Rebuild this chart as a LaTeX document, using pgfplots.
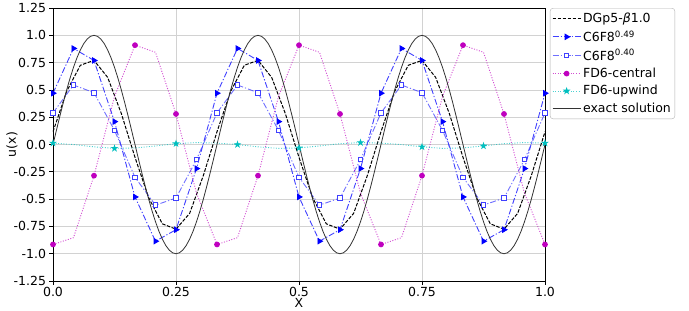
\documentclass[border=0pt]{standalone}
\usepackage{pgfplots}
\pgfplotsset{compat=1.18}
\usepackage{fontspec}
\setmainfont{DejaVu Sans}
\definecolor{mplb}{rgb}{0,0,1}
\definecolor{mpllb}{rgb}{0.25,0.25,1}
\definecolor{mplm}{rgb}{0.75,0,0.75}
\definecolor{mplc}{rgb}{0,0.75,0.75}
\pgfdeclareplotmark{fstar}{%
  \pgfpathmoveto{\pgfpoint{0pt}{\pgfplotmarksize}}%
  \pgfpathlineto{\pgfpoint{-0.2245\pgfplotmarksize}{0.309\pgfplotmarksize}}%
  \pgfpathlineto{\pgfpoint{-0.951\pgfplotmarksize}{0.309\pgfplotmarksize}}%
  \pgfpathlineto{\pgfpoint{-0.363\pgfplotmarksize}{-0.118\pgfplotmarksize}}%
  \pgfpathlineto{\pgfpoint{-0.588\pgfplotmarksize}{-0.809\pgfplotmarksize}}%
  \pgfpathlineto{\pgfpoint{0pt}{-0.382\pgfplotmarksize}}%
  \pgfpathlineto{\pgfpoint{0.588\pgfplotmarksize}{-0.809\pgfplotmarksize}}%
  \pgfpathlineto{\pgfpoint{0.363\pgfplotmarksize}{-0.118\pgfplotmarksize}}%
  \pgfpathlineto{\pgfpoint{0.951\pgfplotmarksize}{0.309\pgfplotmarksize}}%
  \pgfpathlineto{\pgfpoint{0.2245\pgfplotmarksize}{0.309\pgfplotmarksize}}%
  \pgfpathclose
  \pgfusepathqfillstroke}
\begin{document}
\begin{tikzpicture}[font=\fontsize{12.5bp}{15bp}\selectfont]
\begin{axis}[
  width=492bp, height=273bp, scale only axis,
  xmin=0, xmax=1, ymin=-1.25, ymax=1.25,
  xtick={0,0.25,0.5,0.75,1},
  xticklabels={0.0,0.25,0.5,0.75,1.0},
  ytick={-1.25,-1,-0.75,-0.5,-0.25,0,0.25,0.5,0.75,1,1.25},
  yticklabels={-1.25,-1.0,-0.75,-0.5,-0.25,0.0,0.25,0.5,0.75,1.0,1.25},
  tick align=outside, tick pos=left,
  major tick length=3.5bp,
  tick style={line width=0.8bp, black},
  grid=major,
  major grid style={gray!35, line width=0.8bp},
  axis line style={line width=0.8bp},
  xticklabel style={yshift=1bp},
  xlabel={X}, ylabel={u(x)},
  every axis x label/.style={at={(axis description cs:0.5,-0.08)}, anchor=center},
  every axis y label/.style={at={(axis description cs:-0.0833,0.5)}, anchor=center, rotate=90},
  legend cell align=left,
  legend style={at={(1.01,1)}, anchor=north west, draw=gray!60, rounded corners=3bp,
    font=\fontsize{12.5bp}{15bp}\selectfont, inner xsep=2bp, inner ysep=3bp, row sep=2.4bp,
    /tikz/every even column/.append style={column sep=2bp}},
  legend image code/.code={\draw[mark repeat=2,mark phase=2,#1] plot coordinates {(0bp,0bp) (14bp,0bp) (28bp,0bp)};},
]
% DGp5-beta1.0
\addplot[color=black, line width=1bp, dash pattern=on 3.5bp off 1.5bp, no marks, x filter/.expression={x/36}] coordinates {
(0,0.117) (1,0.487) (2,0.726) (3,0.771) (4,0.615) (5,0.284) (6,-0.117) (7,-0.487) (8,-0.726) (9,-0.775) (10,-0.63) (11,-0.284)
(12,0.117) (13,0.487) (14,0.726) (15,0.771) (16,0.615) (17,0.284) (18,-0.117) (19,-0.487) (20,-0.726) (21,-0.775) (22,-0.63) (23,-0.284)
(24,0.117) (25,0.487) (26,0.726) (27,0.771) (28,0.615) (29,0.284) (30,-0.117) (31,-0.487) (32,-0.726) (33,-0.775) (34,-0.63) (35,-0.284)
(36,0.117)};
\addlegendentry{DGp5-\textit{β}1.0}
% C6F8 0.49
\addplot[color=mplb, draw opacity=0.75, line width=0.9bp, dash pattern=on 6bp off 2bp on 1.2bp off 2bp, mark=triangle*, mark size=3bp,
  mark options={solid, rotate=-90, draw opacity=1, draw=mplb, fill=mplb}, x filter/.expression={x/24}] coordinates {
(0,0.47) (1,0.88) (2,0.77) (3,0.21) (4,-0.48) (5,-0.885) (6,-0.78) (7,-0.22)
(8,0.47) (9,0.88) (10,0.77) (11,0.21) (12,-0.48) (13,-0.885) (14,-0.78) (15,-0.22)
(16,0.47) (17,0.88) (18,0.77) (19,0.21) (20,-0.48) (21,-0.885) (22,-0.78) (23,-0.22)
(24,0.47)};
\addlegendentry{C6F8\textsuperscript{0.49}}
% C6F8 0.40
\addplot[color=mpllb, draw opacity=0.75, line width=0.9bp, dash pattern=on 6bp off 2bp on 1.2bp off 2bp, mark=square*, mark size=2.3bp,
  mark options={solid, draw opacity=1, draw=mpllb, fill=white}, x filter/.expression={x/24}] coordinates {
(0,0.29) (1,0.545) (2,0.475) (3,0.13) (4,-0.30) (5,-0.555) (6,-0.49) (7,-0.138)
(8,0.29) (9,0.545) (10,0.475) (11,0.13) (12,-0.30) (13,-0.555) (14,-0.49) (15,-0.138)
(16,0.29) (17,0.545) (18,0.475) (19,0.13) (20,-0.30) (21,-0.555) (22,-0.49) (23,-0.138)
(24,0.29)};
\addlegendentry{C6F8\textsuperscript{0.40}}
% FD6-central
\addplot[color=mplm, draw opacity=0.7, line width=0.9bp, dash pattern=on 1bp off 1.6bp, mark=*, mark size=2.4bp, mark repeat=2,
  mark options={solid, draw opacity=1, draw=mplm, fill=mplm}, x filter/.expression={x/24}] coordinates {
(0,-0.915) (1,-0.853) (2,-0.285) (3,0.44) (4,0.91) (5,0.845) (6,0.28) (7,-0.445)
(8,-0.915) (9,-0.853) (10,-0.285) (11,0.44) (12,0.91) (13,0.845) (14,0.28) (15,-0.445)
(16,-0.915) (17,-0.853) (18,-0.285) (19,0.44) (20,0.91) (21,0.845) (22,0.28) (23,-0.445)
(24,-0.915)};
\addlegendentry{FD6-central}
% FD6-upwind
\addplot[color=mplc, draw opacity=0.7, line width=0.9bp, dash pattern=on 1bp off 1.6bp, mark=fstar, mark size=2.6bp, mark repeat=3,
  mark options={solid, draw opacity=1, draw=mplc, fill=mplc}, x filter/.expression={x/24}] coordinates {
(0,0.013) (1,0.0) (2,-0.021) (3,-0.035) (4,-0.031) (5,-0.013) (6,0.008) (7,0.018)
(8,0.013) (9,0.0) (10,-0.021) (11,-0.035) (12,-0.031) (13,-0.013) (14,0.008) (15,0.018)
(16,0.013) (17,0.0) (18,-0.021) (19,-0.035) (20,-0.031) (21,-0.013) (22,0.008) (23,0.018)
(24,0.013)};
\addlegendentry{FD6-upwind}
% exact
\addplot[color=black!80, line width=0.8bp, no marks, x filter/.expression={x/144}] coordinates {
(0,0) (1,0.1305) (2,0.2588) (3,0.3827) (4,0.5) (5,0.6088) (6,0.7071) (7,0.7934) (8,0.8660) (9,0.9239) (10,0.9659) (11,0.9914) (12,1) (13,0.9914) (14,0.9659) (15,0.9239) (16,0.8660) (17,0.7934) (18,0.7071) (19,0.6088) (20,0.5) (21,0.3827) (22,0.2588) (23,0.1305) (24,0) (25,-0.1305) (26,-0.2588) (27,-0.3827) (28,-0.5) (29,-0.6088) (30,-0.7071) (31,-0.7934) (32,-0.8660) (33,-0.9239) (34,-0.9659) (35,-0.9914) (36,-1) (37,-0.9914) (38,-0.9659) (39,-0.9239) (40,-0.8660) (41,-0.7934) (42,-0.7071) (43,-0.6088) (44,-0.5) (45,-0.3827) (46,-0.2588) (47,-0.1305) (48,0)
(49,0.1305) (50,0.2588) (51,0.3827) (52,0.5) (53,0.6088) (54,0.7071) (55,0.7934) (56,0.8660) (57,0.9239) (58,0.9659) (59,0.9914) (60,1) (61,0.9914) (62,0.9659) (63,0.9239) (64,0.8660) (65,0.7934) (66,0.7071) (67,0.6088) (68,0.5) (69,0.3827) (70,0.2588) (71,0.1305) (72,0) (73,-0.1305) (74,-0.2588) (75,-0.3827) (76,-0.5) (77,-0.6088) (78,-0.7071) (79,-0.7934) (80,-0.8660) (81,-0.9239) (82,-0.9659) (83,-0.9914) (84,-1) (85,-0.9914) (86,-0.9659) (87,-0.9239) (88,-0.8660) (89,-0.7934) (90,-0.7071) (91,-0.6088) (92,-0.5) (93,-0.3827) (94,-0.2588) (95,-0.1305) (96,0)
(97,0.1305) (98,0.2588) (99,0.3827) (100,0.5) (101,0.6088) (102,0.7071) (103,0.7934) (104,0.8660) (105,0.9239) (106,0.9659) (107,0.9914) (108,1) (109,0.9914) (110,0.9659) (111,0.9239) (112,0.8660) (113,0.7934) (114,0.7071) (115,0.6088) (116,0.5) (117,0.3827) (118,0.2588) (119,0.1305) (120,0) (121,-0.1305) (122,-0.2588) (123,-0.3827) (124,-0.5) (125,-0.6088) (126,-0.7071) (127,-0.7934) (128,-0.8660) (129,-0.9239) (130,-0.9659) (131,-0.9914) (132,-1) (133,-0.9914) (134,-0.9659) (135,-0.9239) (136,-0.8660) (137,-0.7934) (138,-0.7071) (139,-0.6088) (140,-0.5) (141,-0.3827) (142,-0.2588) (143,-0.1305) (144,0)};
\addlegendentry{exact solution}
\end{axis}
\path ([xshift=-53bp,yshift=-29.5bp]current axis.south west) rectangle ([xshift=144bp,yshift=4.75bp]current axis.north east);
\end{tikzpicture}
\end{document}
